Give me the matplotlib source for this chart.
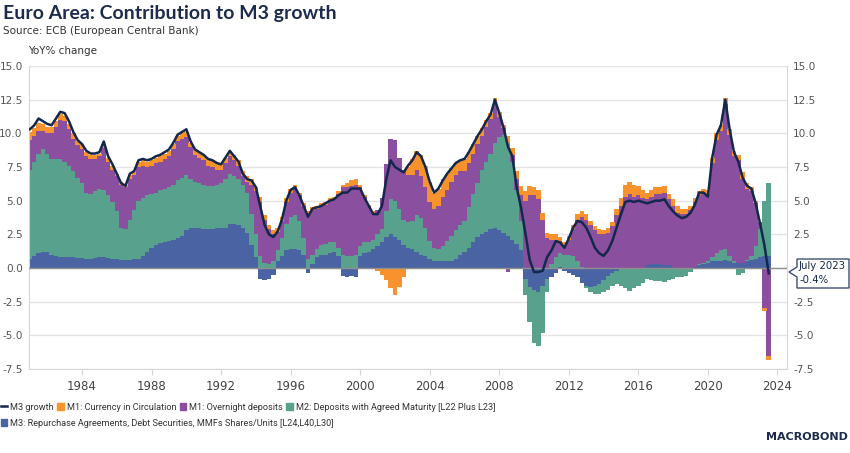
import numpy as np
import matplotlib.pyplot as plt
from matplotlib.lines import Line2D
from matplotlib.patches import Patch, Polygon

# quarterly contributions to M3 growth, pp (first value = 1981 Q1, last = July 2023)
m3_other = [
    0.7, 0.9, 1.1, 1.2,  1.2, 1.0, 0.9, 0.85,  0.85, 0.8, 0.8, 0.75,
    0.75, 0.7, 0.7, 0.75,  0.8, 0.8, 0.75, 0.7,  0.7, 0.6, 0.6, 0.6,
    0.65, 0.7, 0.9, 1.2,  1.5, 1.7, 1.85, 1.9,  2.0, 2.1, 2.2, 2.4,
    2.8, 3.0, 3.0, 3.0,  2.9, 2.9, 2.9, 3.0,  3.0, 3.0, 3.3, 3.3,
    3.2, 3.0, 2.6, 1.7,  0.8, -0.8, -0.9, -0.8,  -0.5, 0.5, 0.9, 1.3,
    1.4, 1.4, 1.3, 1.0,  -0.4, 0.3, 0.8, 1.0,  1.0, 1.1, 1.2, 0.9,
    -0.6, -0.7, -0.6, -0.7,  0.9, 1.1, 1.2, 1.4,  1.6, 1.9, 2.3, 2.5,
    2.3, 2.1, 1.7, 1.5,  1.4, 1.2, 1.0, 0.9,  0.7, 0.5, 0.5, 0.5,
    0.5, 0.5, 0.7, 1.0,  1.2, 1.5, 1.9, 2.3,  2.5, 2.7, 2.9, 3.0,
    2.8, 2.6, 2.4, 2.1,  1.8, 1.3, -0.8, -1.4,  -1.6, -1.8, -1.3, -0.8,
    -0.7, -0.4, 0.1, -0.2,  -0.4, -0.5, -0.7, -1.1,  -1.3, -1.4, -1.3, -1.2,
    -0.9, -0.6, -0.4, -0.2,  -0.1, -0.1, 0.0, 0.0,  0.0, 0.0, 0.2, 0.3,
    0.3, 0.3, 0.2, 0.2,  0.1, -0.1, -0.1, -0.1,  0.0, 0.1, 0.2, 0.3,
    0.4, 0.5, 0.5, 0.5,  0.6, 0.5, 0.4, 0.4,  0.4, 0.5, 0.6, 0.7,
    0.8, 0.9, 0.9,
]
agreed_maturity = [
    6.6, 7.0, 7.4, 7.6,  7.3, 7.1, 7.2, 7.25,  7.05, 6.8, 6.4, 5.95,
    5.55, 4.9, 4.8, 4.95,  5.1, 5.0, 4.65, 4.2,  3.5, 2.4, 2.3, 3.0,
    3.65, 4.3, 4.3, 4.2,  4.0, 3.9, 3.95, 4.0,  4.0, 4.1, 4.3, 4.3,
    4.1, 3.6, 3.4, 3.3,  3.3, 3.2, 3.2, 3.2,  3.3, 3.6, 3.7, 3.5,
    3.4, 3.2, 3.0, 2.3,  1.7, 0.9, 0.4, 0.3,  0.5, 0.8, 1.3, 2.0,
    2.4, 2.5, 2.2, 1.2,  0.7, 0.7, 0.6, 0.7,  0.8, 0.8, 0.7, 0.6,
    1.0, 0.9, 0.9, 1.0,  0.7, 0.8, 0.7, 0.7,  0.9, 1.0, 1.9, 2.6,
    2.7, 2.3, 1.9, 1.9,  2.1, 2.7, 2.7, 2.1,  1.3, 1.0, 0.9, 1.1,
    1.5, 1.9, 2.1, 2.2,  2.3, 3.0, 3.6, 4.0,  4.8, 5.2, 5.6, 6.3,
    6.9, 7.3, 6.9, 5.8,  4.0, 2.2, -1.2, -2.6,  -4.0, -4.0, -3.5, -1.0,
    0.3, 0.8, 1.0, 1.0,  1.0, 0.9, 0.5, 0.1,  -0.2, -0.4, -0.6, -0.7,
    -0.9, -1.0, -0.9, -1.0,  -1.2, -1.4, -1.7, -1.5,  -1.3, -1.1, -0.8, -0.9,
    -1.0, -1.0, -1.05, -0.9,  -0.8, -0.6, -0.6, -0.5,  -0.3, -0.1, 0.1, 0.1,
    0.1, 0.3, 0.6, 0.8,  0.8, 0.4, 0.1, -0.5,  -0.4, 0.1, 0.3, 0.9,
    2.1, 4.1, 5.4,
]
overnight = [
    2.2, 1.9, 1.7, 1.4,  1.5, 1.9, 2.4, 2.9,  3.0, 2.7, 2.4, 2.4,
    2.5, 2.7, 2.6, 2.4,  2.4, 3.1, 2.5, 2.4,  2.6, 3.2, 3.1, 3.0,
    2.6, 2.5, 2.4, 2.1,  2.1, 2.2, 2.1, 2.2,  2.3, 2.6, 2.9, 2.9,
    2.8, 2.4, 2.0, 1.9,  1.8, 1.5, 1.4, 1.1,  1.0, 1.2, 1.3, 1.2,
    1.0, 0.6, 0.8, 2.2,  3.2, 4.0, 3.2, 2.6,  2.0, 1.4, 1.3, 1.6,
    1.8, 2.1, 1.9, 2.4,  3.3, 3.3, 3.0, 2.9,  2.9, 3.1, 3.2, 4.0,
    5.0, 5.1, 5.2, 5.2,  4.4, 3.4, 2.7, 2.0,  1.8, 2.3, 3.5, 4.5,
    4.5, 3.8, 3.7, 3.5,  3.4, 3.4, 3.1, 3.0,  2.9, 2.9, 3.2, 3.7,
    3.8, 4.0, 4.1, 4.0,  3.7, 3.3, 3.0, 2.9,  2.5, 2.6, 2.6, 3.0,
    1.5, 0.5, -0.3, 0.5,  0.8, 1.9, 5.0, 5.4,  5.4, 5.1, 3.6, 2.2,
    1.8, 1.3, 0.9, 0.6,  1.1, 2.0, 3.1, 3.7,  3.6, 3.2, 2.8, 2.5,
    2.5, 2.6, 3.1, 3.9,  4.6, 5.3, 5.5, 5.3,  5.4, 5.2, 4.9, 5.0,
    5.2, 5.2, 5.4, 4.9,  4.5, 4.1, 4.0, 4.0,  4.3, 4.8, 5.1, 5.2,
    5.0, 7.0, 8.4, 8.9,  10.8, 9.0, 7.8, 7.6,  6.2, 5.3, 4.8, 3.2,
    0.5, -3.0, -6.5,
]
currency = [
    0.6, 0.6, 0.6, 0.5,  0.5, 0.5, 0.4, 0.4,  0.4, 0.4, 0.4, 0.3,
    0.4, 0.3, 0.3, 0.3,  0.2, 0.3, 0.3, 0.3,  0.2, 0.2, 0.2, 0.3,
    0.3, 0.4, 0.4, 0.4,  0.4, 0.4, 0.4, 0.4,  0.4, 0.4, 0.4, 0.4,
    0.4, 0.3, 0.4, 0.4,  0.4, 0.5, 0.5, 0.5,  0.4, 0.4, 0.4, 0.4,
    0.4, 0.4, 0.4, 0.4,  0.3, 0.4, 0.3, 0.3,  0.3, 0.3, 0.3, 0.3,
    0.3, 0.2, 0.2, 0.2,  0.2, 0.2, 0.2, 0.2,  0.2, 0.2, 0.2, 0.2,
    0.2, 0.3, 0.4, 0.4,  0.2, 0.1, 0.1, 0.1,  -0.2, -0.5, -0.9, -1.5,
    -2.0, -1.4, -0.7, 0.6,  1.2, 1.4, 1.6, 1.6,  1.5, 1.2, 1.3, 1.3,
    1.2, 1.0, 0.9, 0.8,  0.9, 0.8, 0.7, 0.6,  0.6, 0.5, 0.4, 0.3,
    0.4, 0.2, 0.5, 0.5,  0.6, 0.7, 0.7, 0.7,  0.6, 0.7, 0.5, 0.4,
    0.4, 0.4, 0.3, 0.3,  0.3, 0.3, 0.4, 0.4,  0.4, 0.3, 0.3, 0.4,
    0.3, 0.4, 0.3, 0.5,  0.6, 0.9, 0.9, 0.9,  0.7, 0.6, 0.5, 0.5,
    0.5, 0.5, 0.5, 0.4,  0.5, 0.5, 0.4, 0.4,  0.3, 0.3, 0.3, 0.3,
    0.3, 0.4, 0.5, 0.4,  0.4, 0.4, 0.4, 0.4,  0.5, 0.4, 0.3, 0.2,
    0.0, -0.2, -0.3,
]
m3_growth = [
    10.3, 10.6, 11.1, 10.9,  10.7, 10.6, 11.1, 11.6,  11.5, 10.9, 10.1, 9.5,
    9.2, 8.7, 8.5, 8.5,  8.6, 9.4, 8.3, 7.7,  7.0, 6.3, 6.1, 7.0,
    7.2, 8.0, 8.1, 8.0,  8.1, 8.3, 8.4, 8.6,  8.8, 9.3, 9.9, 10.1,
    10.3, 9.4, 8.8, 8.6,  8.4, 8.1, 8.0, 7.8,  7.7, 8.2, 8.7, 8.3,
    7.9, 7.0, 6.6, 6.5,  6.0, 4.6, 3.2, 2.5,  2.3, 2.7, 3.6, 5.0,
    5.8, 6.0, 5.4, 4.6,  3.8, 4.4, 4.5, 4.6,  4.8, 5.0, 5.1, 5.4,
    5.6, 5.6, 5.9, 5.9,  5.9, 5.2, 4.6, 4.0,  4.0, 4.6, 6.6, 8.0,
    7.5, 7.3, 7.1, 7.6,  8.0, 8.6, 8.3, 7.5,  6.4, 5.6, 5.9, 6.5,
    7.0, 7.4, 7.8, 8.0,  8.1, 8.6, 9.2, 9.8,  10.3, 10.9, 11.4, 12.5,
    11.5, 10.4, 9.0, 8.3,  6.0, 4.5, 2.6, 0.6,  -0.3, -0.3, -0.2, 0.8,
    1.3, 2.0, 1.9, 1.5,  2.2, 3.0, 3.5, 3.4,  3.0, 2.3, 1.5, 1.1,
    0.9, 1.3, 2.0, 3.0,  4.0, 4.9, 5.0, 4.9,  5.0, 4.9, 4.8, 4.9,
    5.0, 5.0, 5.1, 4.6,  4.2, 3.9, 3.7, 3.8,  4.1, 4.7, 5.6, 5.6,
    5.3, 8.2, 9.9, 10.6,  12.5, 10.3, 8.6, 7.9,  6.7, 6.1, 5.9, 4.8,
    3.3, 1.7, -0.4,
]

navy = "#14284b"
series = [
    ("M3: Repurchase Agreements, Debt Securities, MMFs Shares/Units [L24,L40,L30]", m3_other, "#4a63a3"),
    ("M2: Deposits with Agreed Maturity [L22 Plus L23]", agreed_maturity, "#57a18d"),
    ("M1: Overnight deposits", overnight, "#8b4f9f"),
    ("M1: Currency in Circulation", currency, "#f7922d"),
]

t = 1981 + 0.25 * np.arange(len(m3_growth))

fig = plt.figure(figsize=(8.5, 4.53), dpi=100)
ax = fig.add_axes([29 / 850, 84 / 453, 758 / 850, 303 / 453])

pos_base = np.zeros(len(t))
neg_base = np.zeros(len(t))
for name, vals, col in series:
    v = np.array(vals)
    pos = np.where(v > 0, v, 0)
    neg = np.where(v < 0, v, 0)
    ax.bar(t, pos, bottom=pos_base, width=0.26, color=col, linewidth=0, zorder=2)
    ax.bar(t, neg, bottom=neg_base, width=0.26, color=col, linewidth=0, zorder=2)
    pos_base += pos
    neg_base += neg

ax.axhline(0, color="#8f8f8f", lw=1, zorder=3)
ax.plot(t, m3_growth, color=navy, lw=1.8, zorder=4)

ax.set_xlim(1980.95, 2024.55)
ax.set_ylim(-7.5, 15)
yt = np.arange(-7.5, 15.1, 2.5)
ax.set_yticks(yt)
ax.set_yticklabels([f"{v:.1f}" for v in yt])
ax.set_xticks(range(1984, 2025, 4))
ax.grid(axis="y", color="#e4e4e4", lw=1, zorder=0)
ax.set_axisbelow(True)
for s in ["left", "right", "bottom"]:
    ax.spines[s].set_color("#d6d6d6")
ax.spines["top"].set_visible(False)
ax.tick_params(axis="y", length=0, pad=4.5, labelsize=7.6, labelcolor="#555555",
               labelleft=True, labelright=True)
ax.tick_params(axis="x", length=4, color="#d6d6d6", pad=4, labelsize=8.5, labelcolor="#444444")
# the callout covers the right-hand 0.0 label
for tick, v in zip(ax.yaxis.get_major_ticks(), yt):
    if v == 0:
        tick.label2.set_visible(False)

# title block
fig.text(0.003, 1 - 13 / 453, "Euro Area: Contribution to M3 growth", fontsize=14,
         fontweight="bold", color="#1c2b4d", va="center", family="Lato")
fig.text(0.003, 1 - 31 / 453, "Source: ECB (European Central Bank)", fontsize=7.5,
         color="#333333", va="center")
fig.text(28 / 850, 1 - 51 / 453, "YoY% change", fontsize=7.5, color="#333333", va="center")

# end-of-series callout
pts = [(797, 259), (849, 259), (849, 288), (797, 288), (797, 277), (789, 272), (797, 267)]
fig.patches.append(Polygon([(x / 850, 1 - y / 453) for x, y in pts], closed=True,
                           transform=fig.transFigure, facecolor="white",
                           edgecolor="#3b4f75", lw=1, zorder=5))
fig.text(799 / 850, 1 - 266 / 453, "July 2023", fontsize=7.3, color=navy, va="center", zorder=6)
fig.text(799 / 850, 1 - 280 / 453, f"{m3_growth[-1]:.1f}%", fontsize=7.3, color=navy,
         va="center", zorder=6)

# legend
lprop = {"family": ["Roboto", "DejaVu Sans"], "size": 6.6}
h1 = [Line2D([], [], color=navy, lw=1.8)] + [Patch(color=c) for _, _, c in series[:0:-1]]
l1 = ["M3 growth"] + [n for n, _, _ in series[:0:-1]]
fig.legend(h1, l1, loc="center left", bbox_to_anchor=(0, 1 - 407 / 453), ncol=4,
           frameon=False, prop=lprop, handlelength=0.7, handleheight=0.7,
           handletextpad=0.3, columnspacing=0.4, borderaxespad=0, borderpad=0.1,
           labelcolor="#333333")
fig.legend([Patch(color=series[0][2])], [series[0][0]], loc="center left",
           bbox_to_anchor=(0, 1 - 423 / 453), frameon=False, prop=lprop,
           handlelength=0.7, handleheight=0.7, handletextpad=0.3, borderaxespad=0,
           borderpad=0.1, labelcolor="#333333")

fig.text(848 / 850, 1 - 437 / 453, "MACROBOND", fontsize=8, fontweight="bold",
         color="#1c2b4d", ha="right", va="center")

fig.savefig("out.png", dpi=100)
